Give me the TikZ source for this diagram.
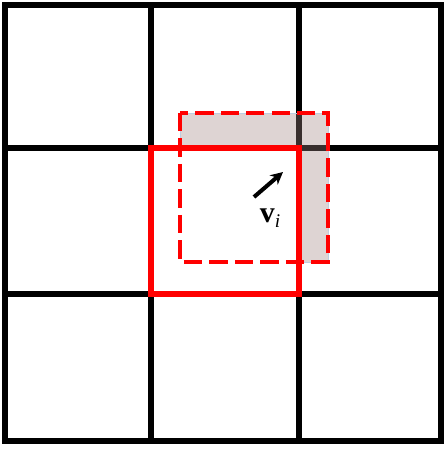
\documentclass[tikz,border=0pt]{standalone}
\usepackage{fontspec}
\setmainfont{Liberation Serif}
\usetikzlibrary{arrows.meta}
\definecolor{cellshade}{RGB}{161,132,129}
\definecolor{shadeedge}{RGB}{190,205,225}
\begin{document}
\begin{tikzpicture}[x=0.02cm, y=-0.02cm]
            \useasboundingbox (0,0) rectangle (445,450);

            % Coordonnées de la grille
            \coordinate (G1) at (5,5);
            \coordinate (G2) at (441,441);

            % Grille 3x3
            \draw[line width=3.5pt] (G1) rectangle (G2);
            \draw[line width=3.5pt] (151,5) -- (151,441);
            \draw[line width=3.5pt] (299,5) -- (299,441);
            \draw[line width=3.5pt] (5,148) -- (441,148);
            \draw[line width=3.5pt] (5,294) -- (441,294);

            % Partie déplacée hors de la cellule
            \fill[cellshade, fill opacity=0.35] (180,113) -- (328,113) -- (328,262) -- (299,262) -- (299,148) -- (180,148) -- cycle;
            \draw[shadeedge, thin] (180,113) -- (328,113) -- (328,262) -- (299,262) -- (299,148) -- (180,148) -- cycle;

            % Cellule d'origine
            \draw[red, line width=2.9pt] (151,148) rectangle (299,294);

            % Cellule déplacée
            \draw[red, line width=2.7pt, dash pattern=on 10.5pt off 4pt] (180,113) rectangle (328,262);

            % Vitesse v_i
            \coordinate (Vtail) at (254,197);
            \coordinate (Vhead) at (283,172);
            \draw[-{Stealth[length=7pt,width=7pt]}, line width=2.3pt] (Vtail) -- (Vhead);
            \node[inner sep=0pt] (Vlabel) at (270,218) {\fontsize{17}{20}\selectfont\textbf{v}\raisebox{-0.4ex}{\fontsize{11}{12}\selectfont\textit{i}}};
        \end{tikzpicture}
\end{document}
